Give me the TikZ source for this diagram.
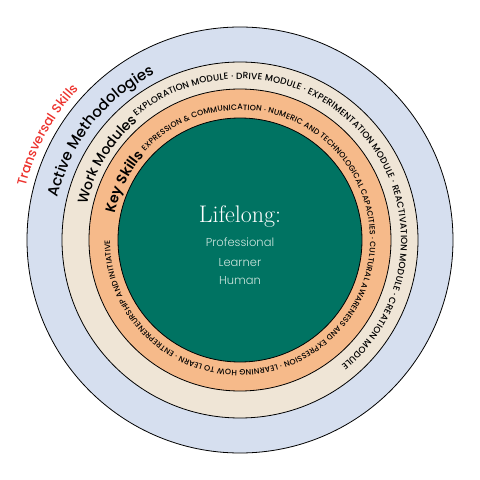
\documentclass[tikz,border=0pt]{standalone}
\usepackage{fontspec}
\newfontfamily\ringfont{Poppins Medium}
\newfontfamily\ringbold{Poppins SemiBold}
\newfontfamily\corefont{Poppins Light}
\usetikzlibrary{decorations.text}

\definecolor{ringblue}{RGB}{214,223,239}
\definecolor{ringbeige}{RGB}{239,229,214}
\definecolor{ringorange}{RGB}{246,186,138}
\definecolor{coregreen}{RGB}{0,115,98}
\definecolor{skillred}{RGB}{236,50,45}
\definecolor{corelight}{RGB}{205,230,222}

\tikzset{
  ring/.style={draw=black, line width=0.8pt},
  corelabel/.style={anchor=base, text=corelight, font=\corefont\fontsize{11.5}{11.5}\selectfont}
}

\begin{document}
\begin{tikzpicture}

            \useasboundingbox (-240pt,-240pt) rectangle (240pt,240pt);

            %---------------- ANILLOS ----------------
            \draw[ring, fill=ringblue]   (0,0) circle (213pt);
            \draw[ring, fill=ringbeige]  (0,0) circle (178pt);
            \draw[ring, fill=ringorange] (0,0) circle (151pt);
            \draw[ring, fill=coregreen]  (0,0) circle (122pt);

            %---------------- TITULOS DE ANILLO ----------------
            \path[decorate, decoration={text along path, text color=skillred,
                text={|\ringfont\fontsize{13}{13}\selectfont|Transversal Skills}}]
            (166:221pt) arc (166:60:221pt);

            \path[decorate, decoration={text along path,
                text={|\ringfont\fontsize{15}{15}\selectfont|Active Methodologies}}]
            (167:187pt) arc (167:60:187pt);

            \path[decorate, decoration={text along path,
                text={|\ringfont\fontsize{14}{14}\selectfont|Work Modules}}]
            (167:157pt) arc (167:100:157pt);

            \path[decorate, decoration={text along path,
                text={|\ringbold\fontsize{14}{14}\selectfont|Key Skills}}]
            (168:128pt) arc (168:100:128pt);

            %---------------- TEXTO PEQUENO ----------------
            % ajustado al arco para llegar al final del anillo
            \path[decorate, decoration={text along path, text align={fit to path},
                text={|\ringfont\fontsize{9}{9}\selectfont|EXPLORATION MODULE · DRIVE MODULE · EXPERIMENTATION MODULE · REACTIVATION MODULE · CREATION MODULE}}]
            (130:161pt) arc (130:-51:161pt);

            \path[decorate, decoration={text along path, text align={fit to path},
                text={|\ringfont\fontsize{7.8}{7.8}\selectfont|EXPRESSION {\&} COMMUNICATION · NUMERIC AND TECHNOLOGICAL CAPACITIES · CULTURAL AWARENESS AND EXPRESSION · LEARNING HOW TO LEARN · ENTREPRENEURSHIP AND INITIATIVE}}]
            (137:130pt) arc (137:-180:130pt);

            %---------------- CENTRO ----------------
            \node[anchor=base, text=white, font=\fontsize{24}{24}\selectfont]
            (lifelong) at (0,18pt) {Lifelong:};

            \node[corelabel] (professional) at (0,-6pt) {Professional};
            \node[corelabel] (learner) at (0,-26pt) {Learner};
            \node[corelabel] (human) at (0,-44pt) {Human};

\end{tikzpicture}
\end{document}
